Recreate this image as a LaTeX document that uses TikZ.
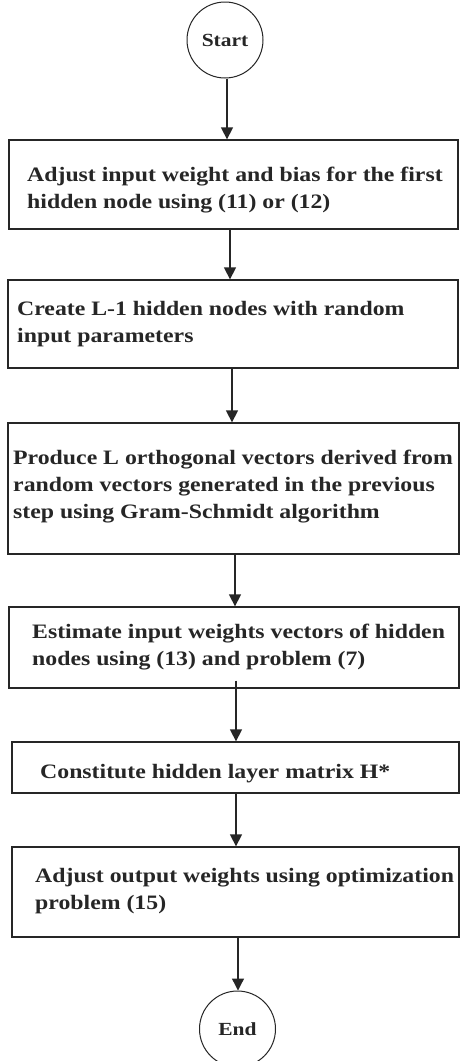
\documentclass[tikz,border=0pt]{standalone}
\usepackage{fontspec}
\setmainfont{Liberation Serif}[FakeStretch=1.16]
\usetikzlibrary{arrows.meta}
\begin{document}
\begin{tikzpicture}[x=1pt,y=-1pt,
  box/.style={draw=black!85,line width=1.3pt,rectangle,inner sep=0pt},
  term/.style={draw=black!85,line width=1pt,circle,minimum size=76pt,inner sep=0pt,
    font=\fontsize{18.5}{22}\selectfont\bfseries,text=black!85},
  txt/.style={anchor=base west,align=left,inner sep=0pt,text=black!85,
    font=\fontsize{20.5}{27}\selectfont\bfseries},
  arr/.style={draw=black!85,line width=1.3pt,-{Triangle[width=12pt,length=12pt]}}]
\useasboundingbox (0,0) rectangle (460,1061);
\fill[white] (0,0) rectangle (460,1061);
% terminals
\node[term] (s) at (225,40) {Start};
\node[term] (e) at (237.5,1029) {End};
% boxes
\node[box,minimum width=449pt,minimum height=89pt] (b1) at (233.5,184.5) {};
\node[box,minimum width=450pt,minimum height=88pt] (b2) at (233,324) {};
\node[box,minimum width=451pt,minimum height=131pt] (b3) at (233.5,488.5) {};
\node[box,minimum width=450pt,minimum height=81pt] (b4) at (234,647.5) {};
\node[box,minimum width=447pt,minimum height=51pt] (b5) at (235.5,767.5) {};
\node[box,minimum width=447pt,minimum height=90pt] (b6) at (235.5,892) {};
% texts (anchored at the baseline of their last line)
\node[txt] (t1) at (27,208) {Adjust input weight and bias for the first\\hidden node using (11) or (12)};
\node[txt] (t2) at (17,342.7) {Create L-1 hidden nodes with random\\input parameters};
\node[txt] (t3) at (13,518) {Produce L orthogonal vectors derived from\\random vectors generated in the previous\\step using Gram-Schmidt algorithm};
\node[txt] (t4) at (32,665) {Estimate input weights vectors of hidden\\nodes using (13) and problem (7)};
\node[txt] (t5) at (40,778) {Constitute hidden layer matrix H*};
\node[txt] (t6) at (35,909) {Adjust output weights using optimization\\problem (15)};
% connectors
\draw[arr] (s.south -| 227,0) -- (b1.north -| 227,0);
\draw[arr] (b1.south -| 230,0) -- (b2.north -| 230,0);
\draw[arr] (b2.south -| 232,0) -- (b3.north -| 232,0);
\draw[arr] (b3.south -| 235,0) -- (b4.north -| 235,0);
\draw[arr] ([yshift=8pt]b4.south -| 236,0) -- (b5.north -| 236,0);
\draw[arr] (b5.south -| 236,0) -- (b6.north -| 236,0);
\draw[arr] (b6.south -| 238,0) -- (e.north -| 238,0);
\end{tikzpicture}
\end{document}
